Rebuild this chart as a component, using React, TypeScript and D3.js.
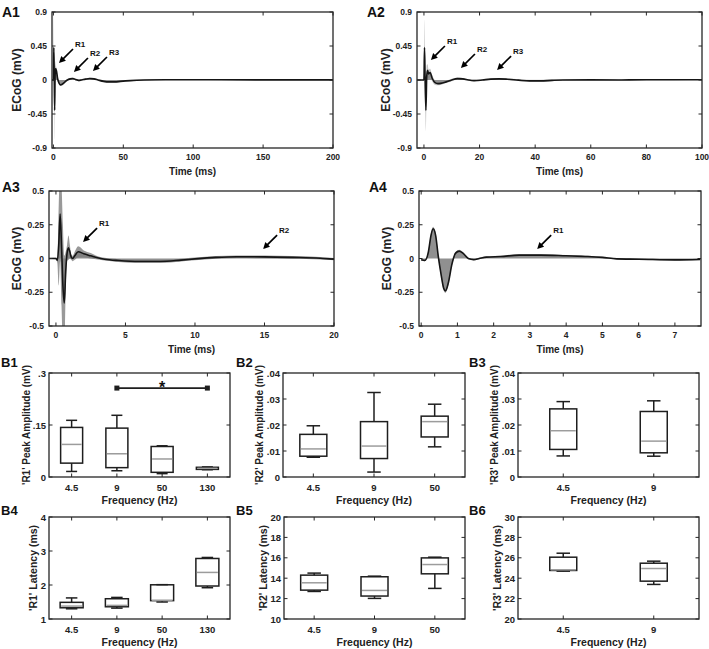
import React from "react";
import * as d3 from "d3";

const FONT = "'Liberation Sans', Arial, Helvetica, sans-serif";
const INK = "#262626";

// ---------- A1 : 4.5 Hz, 0-200 ms ----------
const a1Time = [-1, 0, 0.3, 0.6, 0.9, 1.2, 1.6, 2.2, 3, 4, 5, 6, 8, 10, 12, 14, 16, 18, 20, 23, 26, 29, 32, 36, 40, 44, 48, 55, 65, 80, 100, 120, 150, 175, 200];
const a1Mean = [0, 0, 0.43, 0.05, -0.4, 0.05, 0.15, 0.12, 0.02, -0.04, -0.065, -0.06, -0.03, 0.0, 0.015, 0.02, 0.005, -0.005, 0.0, 0.012, 0.02, 0.015, 0.0, -0.018, -0.025, -0.025, -0.018, -0.008, 0.0, 0.004, 0.004, 0.003, 0.002, 0.002, 0.002];
const a1Sem = [0, 0.005, 0.45, 0.3, 0.38, 0.2, 0.05, 0.04, 0.03, 0.02, 0.015, 0.015, 0.012, 0.01, 0.01, 0.01, 0.01, 0.01, 0.01, 0.01, 0.01, 0.01, 0.01, 0.012, 0.012, 0.012, 0.01, 0.008, 0.006, 0.005, 0.005, 0.005, 0.005, 0.005, 0.005];
const a1XTicks = [0, 50, 100, 150, 200];
const a1Arrows = [
  { label: "R1", t: 4.0, v: 0.225 },
  { label: "R2", t: 14.7, v: 0.106 },
  { label: "R3", t: 28.3, v: 0.119 },
];

// ---------- A2 : 9 Hz, 0-100 ms ----------
const a2Time = [-2.5, 0, 0.2, 0.4, 0.7, 1.0, 1.3, 1.7, 2.2, 3, 4, 5, 6, 8, 10, 12, 14, 16, 18, 21, 24, 27, 30, 34, 38, 42, 46, 50, 60, 70, 80, 90, 100];
const a2Mean = [0, 0, 0.43, 0.05, -0.4, 0.05, 0.13, 0.08, 0.1, 0.02, -0.035, -0.048, -0.045, -0.025, 0.0, 0.018, 0.015, 0.0, -0.008, 0.0, 0.012, 0.015, 0.01, -0.002, -0.012, -0.012, -0.005, 0, 0.002, 0.0, 0.003, 0.003, 0.004];
const a2Sem = [0, 0.005, 0.37, 0.3, 0.28, 0.15, 0.08, 0.06, 0.05, 0.04, 0.03, 0.022, 0.02, 0.015, 0.015, 0.015, 0.012, 0.01, 0.01, 0.01, 0.01, 0.01, 0.01, 0.012, 0.015, 0.015, 0.01, 0.008, 0.006, 0.005, 0.005, 0.005, 0.005];
const a2XTicks = [0, 20, 40, 60, 80, 100];
const a2Arrows = [
  { label: "R1", t: 2.5, v: 0.265 },
  { label: "R2", t: 13.3, v: 0.159 },
  { label: "R3", t: 26.3, v: 0.132 },
];

// ---------- A3 : 50 Hz, 0-20 ms ----------
const a3Time = [-0.5, 0, 0.1, 0.2, 0.3, 0.4, 0.5, 0.6, 0.7, 0.8, 0.9, 1.0, 1.1, 1.2, 1.35, 1.6, 2.0, 2.5, 3.0, 3.5, 4.5, 6, 7.5, 9, 10, 11.5, 13, 15, 17, 19, 20];
const a3Mean = [0, 0, -0.015, 0.1, 0.33, 0.1, -0.2, -0.33, -0.1, 0.04, 0.08, 0.05, 0.01, 0.0, 0.02, 0.05, 0.035, 0.02, 0.005, -0.005, -0.015, -0.022, -0.022, -0.012, -0.003, 0.008, 0.013, 0.012, 0.008, 0.002, -0.005];
const a3Sem = [0.003, 0.005, 0.02, 0.3, 0.35, 0.45, 0.45, 0.35, 0.15, 0.06, 0.09, 0.05, 0.02, 0.02, 0.03, 0.04, 0.025, 0.02, 0.012, 0.01, 0.01, 0.01, 0.01, 0.01, 0.01, 0.01, 0.01, 0.01, 0.01, 0.01, 0.008];
const a3XTicks = [0, 5, 10, 15, 20];
const a3Arrows = [
  { label: "R1", t: 1.95, v: 0.122 },
  { label: "R2", t: 14.9, v: 0.07 },
];

// ---------- A4 : 130 Hz, 0-7.7 ms ----------
const a4Time = [0, 0.1, 0.2, 0.27, 0.33, 0.4, 0.47, 0.55, 0.62, 0.67, 0.75, 0.85, 0.95, 1.05, 1.15, 1.3, 1.45, 1.6, 1.8, 2.2, 2.7, 3.3, 4.0, 4.6, 5.0, 5.4, 6.0, 7.0, 7.7];
const a4Mean = [-0.01, -0.015, 0.05, 0.17, 0.22, 0.17, 0.02, -0.12, -0.22, -0.24, -0.18, -0.04, 0.04, 0.055, 0.04, 0.0, -0.008, 0.0, 0.01, 0.015, 0.025, 0.025, 0.02, 0.015, 0.008, -0.003, -0.005, -0.01, -0.007];
const a4Sem = [0.003, 0.005, 0.01, 0.015, 0.015, 0.015, 0.015, 0.015, 0.015, 0.015, 0.015, 0.012, 0.01, 0.01, 0.008, 0.006, 0.005, 0.005, 0.005, 0.005, 0.006, 0.006, 0.006, 0.006, 0.005, 0.005, 0.005, 0.005, 0.005];
const a4XTicks = [0, 1, 2, 3, 4, 5, 6, 7];
const a4Arrows = [{ label: "R1", t: 3.2, v: 0.07 }];

const aBigYTicks = [-0.9, -0.45, 0, 0.45, 0.9];
const aBigYLabels = ["-0.9", "-0.45", "0", "0.45", "0.9"];
const aSmallYTicks = [-0.5, -0.25, 0, 0.25, 0.5];
const aSmallYLabels = ["-0.5", "-0.25", "0", "0.25", "0.5"];

// ---------- B panels (box plots) ----------
const b1Cats = ["4.5", "9", "50", "130"];
const b1Low = [0.016, 0.018, 0.0097, 0.021];
const b1Q1 = [0.04, 0.027, 0.0135, 0.022];
const b1Med = [0.094, 0.067, 0.052, 0.025];
const b1Q3 = [0.143, 0.141, 0.088, 0.028];
const b1High = [0.1635, 0.178, 0.09, 0.029];
const b1YTicks = [0, 0.15, 0.3];
const b1YLabels = ["0", ".15", ".3"];
const b1Sig = { from: "9", to: "130", value: 0.2565, mark: "*" };

const b2Cats = ["4.5", "9", "50"];
const b2Low = [0.0076, 0.0019, 0.0116];
const b2Q1 = [0.008, 0.0071, 0.0154];
const b2Med = [0.0108, 0.0119, 0.0213];
const b2Q3 = [0.0164, 0.0213, 0.0234];
const b2High = [0.0197, 0.0325, 0.028];

const b3Cats = ["4.5", "9"];
const b3Low = [0.0081, 0.008];
const b3Q1 = [0.0106, 0.0093];
const b3Med = [0.0178, 0.0138];
const b3Q3 = [0.0262, 0.0252];
const b3High = [0.029, 0.0293];

const smallAmpYTicks = [0, 0.01, 0.02, 0.03, 0.04];
const smallAmpYLabels = ["0", ".01", ".02", ".03", ".04"];

const b4Cats = ["4.5", "9", "50", "130"];
const b4Low = [1.3, 1.32, 1.5, 1.92];
const b4Q1 = [1.33, 1.36, 1.54, 1.97];
const b4Med = [1.38, 1.4, 1.547, 2.37];
const b4Q3 = [1.49, 1.596, 2.006, 2.78];
const b4High = [1.62, 1.635, 2.01, 2.81];
const b4YTicks = [1, 2, 3, 4];
const b4YLabels = ["1", "2", "3", "4"];

const b5Cats = ["4.5", "9", "50"];
const b5Low = [12.7, 12.02, 13.0];
const b5Q1 = [12.83, 12.25, 14.43];
const b5Med = [13.55, 12.8, 15.34];
const b5Q3 = [14.3, 14.14, 15.99];
const b5High = [14.5, 14.2, 16.06];
const b5YTicks = [10, 12, 14, 16, 18, 20];
const b5YLabels = ["10", "12", "14", "16", "18", "20"];

const b6Cats = ["4.5", "9"];
const b6Low = [24.69, 23.39];
const b6Q1 = [24.76, 23.71];
const b6Med = [24.82, 24.95];
const b6Q3 = [26.06, 25.47];
const b6High = [26.45, 25.67];
const b6YTicks = [20, 22, 24, 26, 28, 30];
const b6YLabels = ["20", "22", "24", "26", "28", "30"];

// ---------- shared pieces ----------
function FrameTicks({ L, T, R, B, xs, ys }: any) {
  const tl = 3.5;
  return (
    <g stroke={INK} strokeWidth={1}>
      {xs.map((px: number, i: number) => (
        <g key={"x" + i}>
          <line x1={px} x2={px} y1={B} y2={B - tl} />
          <line x1={px} x2={px} y1={T} y2={T + tl} />
        </g>
      ))}
      {ys.map((py: number, i: number) => (
        <g key={"y" + i}>
          <line x1={L} x2={L + tl} y1={py} y2={py} />
          <line x1={R} x2={R - tl} y1={py} y2={py} />
        </g>
      ))}
      <rect x={L} y={T} width={R - L} height={B - T} fill="none" strokeWidth={1.3} />
    </g>
  );
}

function Arrow({ hx, hy, label }: any) {
  const tx = hx + 14;
  const ty = hy - 14;
  const dx = hx - tx;
  const dy = hy - ty;
  const len = Math.hypot(dx, dy);
  const ux = dx / len;
  const uy = dy / len;
  const hl = 6.5;
  const hw = 3.3;
  const bx = hx - ux * hl;
  const by = hy - uy * hl;
  const pts = [
    [hx, hy],
    [bx - uy * hw, by + ux * hw],
    [bx + uy * hw, by - ux * hw],
  ]
    .map((p) => p.join(","))
    .join(" ");
  return (
    <g>
      <line x1={tx} y1={ty} x2={bx + ux} y2={by + uy} stroke="#000" strokeWidth={1.7} />
      <polygon points={pts} fill="#000" />
      <text x={tx + 2} y={ty - 2} fontSize={8} fontWeight="bold" fill="#111">
        {label}
      </text>
    </g>
  );
}

function WavePanel(p: any) {
  const [L, T, R, B] = p.frame;
  const x = d3.scaleLinear().domain(p.xDomain).range([L, R]);
  const y = d3.scaleLinear().domain(p.yDomain).range([B, T]);
  const pts = p.time.map((t: number, i: number) => ({ t, m: p.mean[i], s: p.sem[i] }));
  const curve = d3.curveMonotoneX;
  const band = d3
    .area<any>()
    .x((d) => x(d.t))
    .y0((d) => y(d.m - d.s))
    .y1((d) => y(d.m + d.s))
    .curve(curve);
  const toZero = d3
    .area<any>()
    .x((d) => x(d.t))
    .y0(y(0))
    .y1((d) => y(d.m))
    .curve(curve);
  const line = d3
    .line<any>()
    .x((d) => x(d.t))
    .y((d) => y(d.m))
    .curve(curve);
  const clip = "clip-" + p.id;
  return (
    <g>
      <defs>
        <clipPath id={clip}>
          <rect x={L} y={T} width={R - L} height={B - T} />
        </clipPath>
      </defs>
      <g clipPath={`url(#${clip})`}>
        <path d={band(pts) || ""} fill={p.bandColor} />
        <path d={toZero(pts) || ""} fill="#7d7d7d" opacity={0.85} />
        <path d={line(pts) || ""} fill="none" stroke="#151515" strokeWidth={1.6} strokeLinejoin="round" />
      </g>
      <FrameTicks L={L} T={T} R={R} B={B} xs={p.xTicks.map((v: number) => x(v))} ys={p.yTicks.map((v: number) => y(v))} />
      {p.xTicks.map((v: number, i: number) => (
        <text key={"xl" + i} x={x(v)} y={B + 9} fontSize={8.5} fontWeight="bold" textAnchor="middle" dominantBaseline="central" fill="#222">
          {String(v)}
        </text>
      ))}
      {p.yTicks.map((v: number, i: number) => (
        <text key={"yl" + i} x={L - 5} y={y(v)} fontSize={8.5} fontWeight="bold" textAnchor="end" dominantBaseline="central" fill="#222">
          {p.yTickLabels[i]}
        </text>
      ))}
      <text x={(L + R) / 2} y={p.xLabelY} fontSize={10} fontWeight="bold" textAnchor="middle" dominantBaseline="central" fill="#222">
        Time (ms)
      </text>
      <text
        transform={`translate(${p.yLabelX},${(T + B) / 2}) rotate(-90)`}
        fontSize={12}
        fontWeight="bold"
        textAnchor="middle"
        dominantBaseline="central"
        fill="#222"
      >
        ECoG (mV)
      </text>
      {p.arrows.map((a: any, i: number) => (
        <Arrow key={"ar" + i} hx={x(a.t)} hy={y(a.v)} label={a.label} />
      ))}
      <text x={p.namePos[0]} y={p.namePos[1]} fontSize={14} fontWeight="bold" fill="#111">
        {p.name}
      </text>
    </g>
  );
}

function BoxPanel(p: any) {
  const [L, T, R, B] = p.frame;
  const x = d3.scalePoint<string>().domain(p.cats).range([L, R]).padding(0.5);
  const y = d3.scaleLinear().domain(p.yDomain).range([B, T]);
  const bw = p.boxW;
  const cw = bw / 2;
  return (
    <g>
      <FrameTicks L={L} T={T} R={R} B={B} xs={p.cats.map((c: string) => x(c))} ys={p.yTicks.map((v: number) => y(v))} />
      {p.cats.map((c: string, i: number) => {
        const cx = x(c) as number;
        return (
          <g key={c} stroke="#1e1e1e" strokeWidth={1.5} fill="none">
            <line x1={cx} x2={cx} y1={y(p.high[i])} y2={y(p.q3[i])} />
            <line x1={cx} x2={cx} y1={y(p.q1[i])} y2={y(p.low[i])} />
            <line x1={cx - cw / 2} x2={cx + cw / 2} y1={y(p.high[i])} y2={y(p.high[i])} />
            <line x1={cx - cw / 2} x2={cx + cw / 2} y1={y(p.low[i])} y2={y(p.low[i])} />
            <rect x={cx - bw / 2} y={y(p.q3[i])} width={bw} height={Math.max(0.5, y(p.q1[i]) - y(p.q3[i]))} />
            <line x1={cx - bw / 2 + 1} x2={cx + bw / 2 - 1} y1={y(p.med[i])} y2={y(p.med[i])} stroke="#9c9c9c" />
          </g>
        );
      })}
      {p.sig && (
        <g>
          <line x1={x(p.sig.from)} x2={x(p.sig.to)} y1={y(p.sig.value)} y2={y(p.sig.value)} stroke="#1e1e1e" strokeWidth={1.8} />
          <rect x={(x(p.sig.from) as number) - 2.5} y={y(p.sig.value) - 2.5} width={5} height={5} fill="#1e1e1e" />
          <rect x={(x(p.sig.to) as number) - 2.5} y={y(p.sig.value) - 2.5} width={5} height={5} fill="#1e1e1e" />
          <text
            x={((x(p.sig.from) as number) + (x(p.sig.to) as number)) / 2}
            y={y(p.sig.value) + 5}
            fontSize={16}
            fontWeight="bold"
            textAnchor="middle"
            fill="#111"
          >
            {p.sig.mark}
          </text>
        </g>
      )}
      {p.cats.map((c: string) => (
        <text key={"xl" + c} x={x(c)} y={B + 10} fontSize={9.5} fontWeight="bold" textAnchor="middle" dominantBaseline="central" fill="#222">
          {c}
        </text>
      ))}
      {p.yTicks.map((v: number, i: number) => (
        <text key={"yl" + i} x={L - 3} y={y(v)} fontSize={9.5} fontWeight="bold" textAnchor="end" dominantBaseline="central" fill="#222">
          {p.yTickLabels[i]}
        </text>
      ))}
      <text x={(L + R) / 2} y={p.xLabelY} fontSize={10.5} fontWeight="bold" textAnchor="middle" dominantBaseline="central" fill="#222">
        Frequency (Hz)
      </text>
      <text
        transform={`translate(${p.yLabelX},${(T + B) / 2}) rotate(-90)`}
        fontSize={p.yLabelSize}
        fontWeight="bold"
        textAnchor="middle"
        dominantBaseline="central"
        fill="#222"
      >
        {p.yLabel}
      </text>
      <text x={p.namePos[0]} y={p.namePos[1]} fontSize={13} fontWeight="bold" fill="#111">
        {p.name}
      </text>
    </g>
  );
}

export default function App() {
  return (
    <div style={{ position: "absolute", left: 0, top: 0 }}>
      <svg width={709} height={649} style={{ display: "block", background: "#fff", fontFamily: FONT }}>
        <WavePanel id="a1" frame={[52, 12, 333, 148]} xDomain={[-1, 200]} yDomain={[-0.9, 0.9]} xTicks={a1XTicks}
          yTicks={aBigYTicks} yTickLabels={aBigYLabels} time={a1Time} mean={a1Mean} sem={a1Sem} arrows={a1Arrows}
          name="A1" namePos={[2, 17]} yLabelX={17} xLabelY={171} bandColor="#c4c4c4" />
        <WavePanel id="a2" frame={[417, 12, 702, 148]} xDomain={[-2.5, 100]} yDomain={[-0.9, 0.9]} xTicks={a2XTicks}
          yTicks={aBigYTicks} yTickLabels={aBigYLabels} time={a2Time} mean={a2Mean} sem={a2Sem} arrows={a2Arrows}
          name="A2" namePos={[367, 17]} yLabelX={386} xLabelY={171} bandColor="#c4c4c4" />
        <WavePanel id="a3" frame={[49, 191, 334, 326]} xDomain={[-0.5, 20]} yDomain={[-0.5, 0.5]} xTicks={a3XTicks}
          yTicks={aSmallYTicks} yTickLabels={aSmallYLabels} time={a3Time} mean={a3Mean} sem={a3Sem} arrows={a3Arrows}
          name="A3" namePos={[2, 192]} yLabelX={17} xLabelY={349} bandColor="#999999" />
        <WavePanel id="a4" frame={[419, 191, 701, 326]} xDomain={[-0.06, 7.72]} yDomain={[-0.5, 0.5]} xTicks={a4XTicks}
          yTicks={aSmallYTicks} yTickLabels={aSmallYLabels} time={a4Time} mean={a4Mean} sem={a4Sem} arrows={a4Arrows}
          name="A4" namePos={[369, 192]} yLabelX={387} xLabelY={349} bandColor="#a8a8a8" />

        <BoxPanel frame={[49, 373, 230, 477]} cats={b1Cats} low={b1Low} q1={b1Q1} med={b1Med} q3={b1Q3} high={b1High}
          yDomain={[0, 0.3]} yTicks={b1YTicks} yTickLabels={b1YLabels} yLabel="'R1' Peak Amplitude (mV)" yLabelSize={10}
          name="B1" namePos={[1, 367]} yLabelX={26} xLabelY={500} boxW={22} sig={b1Sig} />
        <BoxPanel frame={[283, 373, 465, 477]} cats={b2Cats} low={b2Low} q1={b2Q1} med={b2Med} q3={b2Q3} high={b2High}
          yDomain={[0, 0.04]} yTicks={smallAmpYTicks} yTickLabels={smallAmpYLabels} yLabel="'R2' Peak Amplitude (mV)" yLabelSize={10}
          name="B2" namePos={[236, 367]} yLabelX={259} xLabelY={500} boxW={27} />
        <BoxPanel frame={[518, 373, 699, 477]} cats={b3Cats} low={b3Low} q1={b3Q1} med={b3Med} q3={b3Q3} high={b3High}
          yDomain={[0, 0.04]} yTicks={smallAmpYTicks} yTickLabels={smallAmpYLabels} yLabel="'R3' Peak Amplitude (mV)" yLabelSize={10}
          name="B3" namePos={[469, 367]} yLabelX={494} xLabelY={500} boxW={27} />
        <BoxPanel frame={[49, 517, 230, 619]} cats={b4Cats} low={b4Low} q1={b4Q1} med={b4Med} q3={b4Q3} high={b4High}
          yDomain={[1, 4]} yTicks={b4YTicks} yTickLabels={b4YLabels} yLabel="'R1' Latency (ms)" yLabelSize={10.5}
          name="B4" namePos={[1, 515]} yLabelX={33} xLabelY={642} boxW={23} />
        <BoxPanel frame={[284, 517, 465, 619]} cats={b5Cats} low={b5Low} q1={b5Q1} med={b5Med} q3={b5Q3} high={b5High}
          yDomain={[10, 20]} yTicks={b5YTicks} yTickLabels={b5YLabels} yLabel="'R2' Latency (ms)" yLabelSize={10.5}
          name="B5" namePos={[236, 515]} yLabelX={263} xLabelY={642} boxW={27} />
        <BoxPanel frame={[518, 517, 699, 619]} cats={b6Cats} low={b6Low} q1={b6Q1} med={b6Med} q3={b6Q3} high={b6High}
          yDomain={[20, 30]} yTicks={b6YTicks} yTickLabels={b6YLabels} yLabel="'R3' Latency (ms)" yLabelSize={10.5}
          name="B6" namePos={[469, 515]} yLabelX={497} xLabelY={642} boxW={27} />
      </svg>
    </div>
  );
}
